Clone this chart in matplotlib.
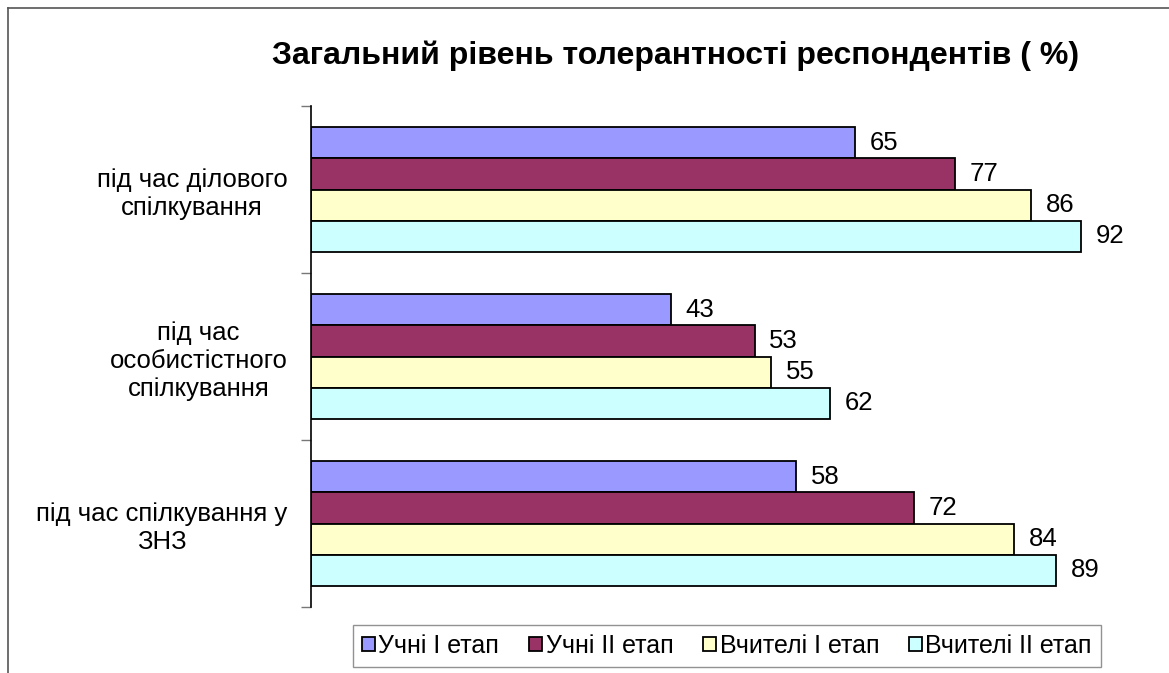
import numpy as np
import matplotlib.pyplot as plt
from matplotlib.lines import Line2D

plt.rcParams['font.family'] = ['Liberation Sans', 'DejaVu Sans']

categories = ['під час ділового\nспілкування',
              'під час\nособистістного\nспілкування',
              'під час спілкування у\nЗНЗ']
series = ['Учні І етап', 'Учні ІІ етап', 'Вчителі І етап', 'Вчителі ІІ етап']
uchni_1 = [65, 43, 58]
uchni_2 = [77, 53, 72]
vchyteli_1 = [86, 55, 84]
vchyteli_2 = [92, 62, 89]
values = [uchni_1, uchni_2, vchyteli_1, vchyteli_2]
colors = ['#9999FF', '#993366', '#FFFFCC', '#CCFFFF']

W, H = 1169, 673
fig = plt.figure(figsize=(W / 100, H / 100), dpi=100)
ax = fig.add_axes([311 / W, (H - 607) / H, (1148 - 311) / W, 501 / H])

y = np.arange(len(categories))
h = 0.186
for i, (name, vals, c) in enumerate(zip(series, values, colors)):
    pos = y + (i - 1.5) * h
    ax.barh(pos, vals, height=h, color=c, edgecolor='black',
            linewidth=1.3, label=name)
    for yy, v in zip(pos, vals):
        ax.annotate(str(v), (v, yy), xytext=(10.5, 0), textcoords='offset points',
                    ha='left', va='center', fontsize=18.5)

ax.set_xlim(0, 100)
ax.set_ylim(2.5, -0.5)
ax.set_yticks(y)
ax.set_yticklabels(categories, fontsize=18.5, multialignment='center')
ax.tick_params(axis='y', which='major', length=0, pad=17)
ax.set_yticks([-0.5, 0.5, 1.5, 2.5], minor=True)
ax.tick_params(axis='y', which='minor', length=7, width=1, color='#777777')
ax.set_xticks([])
for s in ['top', 'right', 'bottom']:
    ax.spines[s].set_visible(False)
ax.spines['left'].set_linewidth(1.2)

fig.text(676 / W, 1 - 56 / H, 'Загальний рівень толерантності респондентів ( %)',
         ha='center', va='center', fontsize=23, fontweight='bold')

leg = fig.legend(loc='center', bbox_to_anchor=(727 / W, 1 - 646 / H), ncol=4,
                 fontsize=18, frameon=True, fancybox=False, edgecolor='#777777',
                 handlelength=0.5, handleheight=0.5, handletextpad=0.15,
                 columnspacing=1.2, borderpad=0.35)
leg.get_frame().set_linewidth(1.0)

fig.add_artist(Line2D([7.5 / W, 7.5 / W], [0, 1 - 7.5 / H], transform=fig.transFigure,
                      color='#555555', linewidth=1.2))
fig.add_artist(Line2D([7.5 / W, 1], [1 - 7.5 / H, 1 - 7.5 / H], transform=fig.transFigure,
                      color='#555555', linewidth=1.2))

fig.savefig('out.png', dpi=100)
